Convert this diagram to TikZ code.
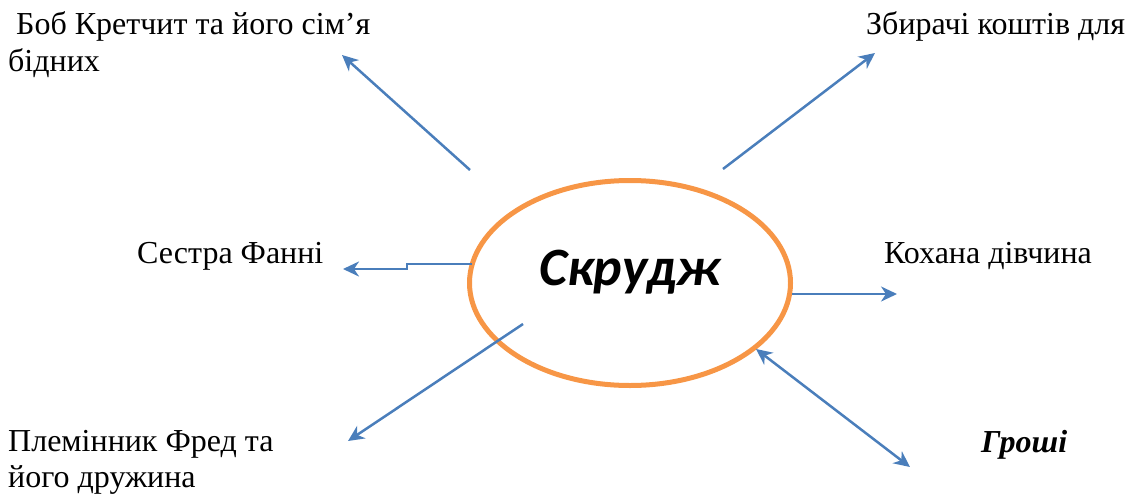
\documentclass[tikz,border=0pt]{standalone}
\usepackage{fontspec}
\setmainfont{Liberation Serif}
\newfontfamily\scroogefont{Carlito}
\usetikzlibrary{shapes,arrows.meta,positioning}
\definecolor{linkblue}{HTML}{4A7EBB}
\definecolor{ringorange}{HTML}{F79646}

\begin{document}
\begin{tikzpicture}[x=1pt,y=-1pt,>={Stealth[length=16pt,width=15pt,inset=5pt]}]
  \tikzstyle{link}=[->,draw=linkblue,line width=2.5pt]
  \tikzstyle{both}=[<->,draw=linkblue,line width=2.5pt]
  \tikzstyle{who}=[anchor=base west,inner sep=0pt,align=left,font=\fontsize{32}{36}\selectfont]
  \tikzstyle{hero}=[draw=ringorange,line width=5pt,ellipse,minimum width=321pt,minimum height=205pt,inner sep=0pt]
  \tikzstyle{hero-name}=[anchor=base,inner sep=0pt,font=\scroogefont\bfseries\itshape\fontsize{54}{60}\selectfont]

  \useasboundingbox (0,0) rectangle (1131,495);

  \node[hero]      (scrooge)      at (630,283) {};
  \node[hero-name] (scrooge-name) at (630,285) {Скрудж};

  % last baseline of the two-line names
  \node[who] (bob)   at (8,71)    {\ Боб Кретчит та його сім’я\\бідних};
  \node[who] (fund)  at (866,35)  {Збирачі коштів для};
  \node[who] (fanny) at (137,263) {Сестра Фанні};
  \node[who] (belle) at (884,263) {Кохана дівчина};
  \node[who] (fred)  at (8,487)   {Племінник Фред та\\його дружина};
  \node[who,font=\fontsize{32}{36}\selectfont\bfseries\itshape] (money) at (981,452) {Гроші};

  \coordinate (bob-out)   at (470,170);
  \coordinate (bob-in)    at (342,55);
  \coordinate (fund-out)  at (723,169);
  \coordinate (fund-in)   at (875,53);
  \coordinate (fanny-out) at (472,264);
  \coordinate (fanny-in)  at (343,269);
  \coordinate (belle-out) at (792,294);
  \coordinate (belle-in)  at (897,294);
  \coordinate (fred-out)  at (523,324);
  \coordinate (fred-in)   at (348,441);
  \coordinate (money-out) at (756,349);
  \coordinate (money-in)  at (910,467);

  \path (bob-out)   edge[link] (bob-in);
  \path (fund-out)  edge[link] (fund-in);
  \draw[link] (fanny-out) -- (407,264) -- (407,269) -- (fanny-in);
  \path (belle-out) edge[link] (belle-in);
  \path (fred-out)  edge[link] (fred-in);
  \path (money-out) edge[both] (money-in);
\end{tikzpicture}
\end{document}
